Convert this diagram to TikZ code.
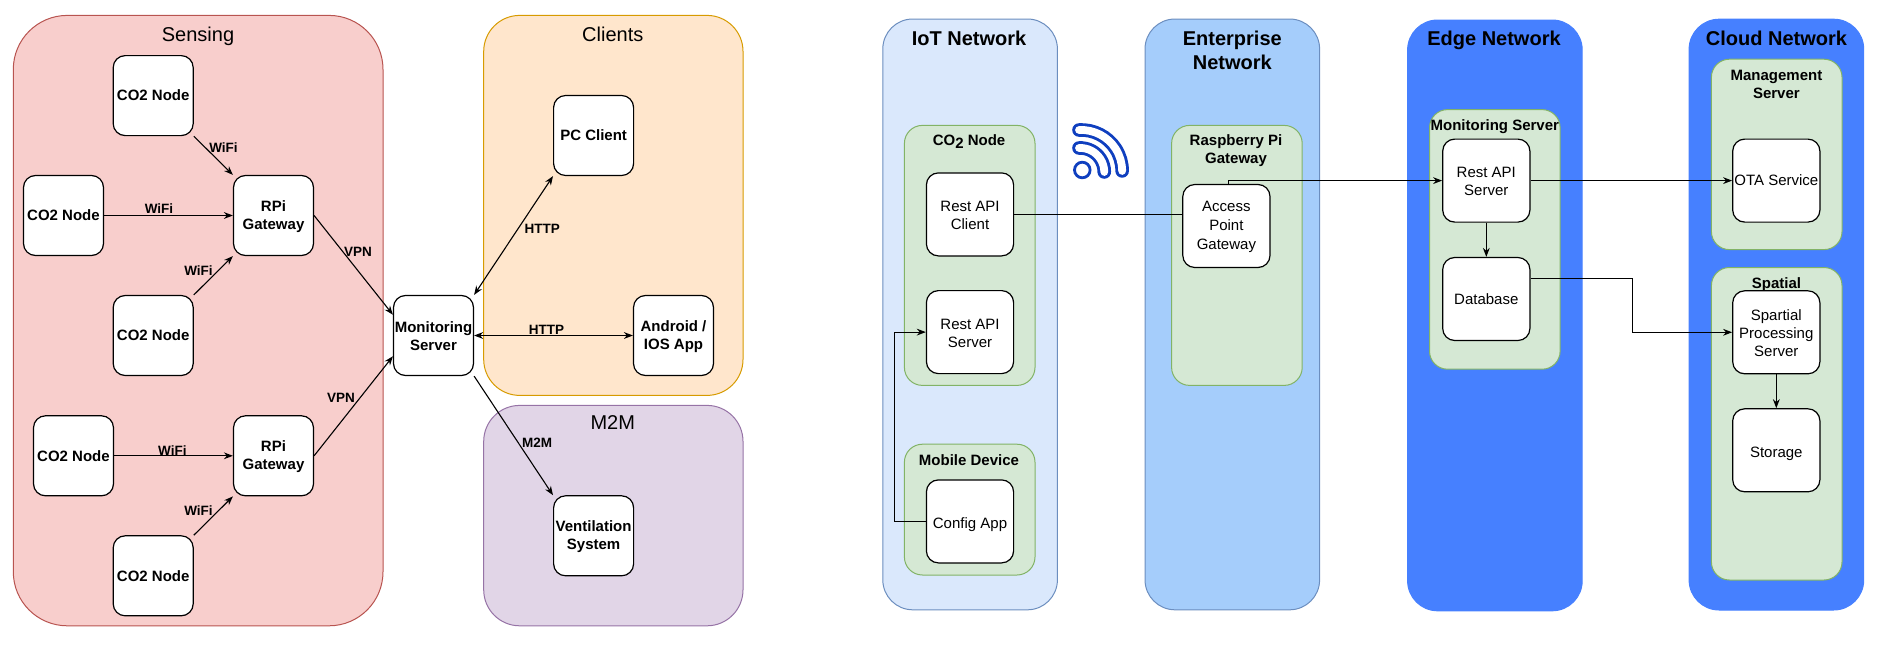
\documentclass[tikz,border=0pt]{standalone}
\usepackage{fontspec}
\setmainfont{Liberation Sans}
\usetikzlibrary{arrows.meta}
\definecolor{redF}{HTML}{F8CECC}\definecolor{redD}{HTML}{B85450}
\definecolor{orF}{HTML}{FFE6CC}\definecolor{orD}{HTML}{D79B00}
\definecolor{puF}{HTML}{E1D5E7}\definecolor{puD}{HTML}{9673A6}
\definecolor{blF}{HTML}{DAE8FC}\definecolor{blD}{HTML}{6C8EBF}
\definecolor{grF}{HTML}{D5E8D4}\definecolor{grD}{HTML}{82B366}
\definecolor{entF}{HTML}{A5CDFB}\definecolor{edgeF}{HTML}{4680FF}
\definecolor{wifiC}{HTML}{0F3FBF}
\newcommand\dn{\rule{0pt}{6.2pt}}
\newcommand\dnn{\rule{0pt}{9pt}}
\tikzset{
  panel/.style={rounded corners=#1,inner sep=0pt,line width=0.5pt},
  netw/.style={panel=15pt,minimum width=87.3pt,minimum height=295.4pt},
  green/.style={panel=9pt,fill=grF,draw=grD,minimum width=65.3pt},
  lbox/.style={draw=black,fill=white,rounded corners=6pt,inner sep=0pt,line width=0.6pt,minimum width=40pt,minimum height=40pt,align=center,font=\fontsize{7.5}{9}\selectfont\bfseries},
  rbox/.style={draw=black,fill=white,rounded corners=6pt,inner sep=0pt,line width=0.6pt,minimum width=43.6pt,minimum height=41.5pt,align=center,font=\fontsize{7.5}{9}\selectfont},
  ttl/.style={align=center,inner sep=0pt,font=\fontsize{10}{12}\selectfont},
  nettl/.style={align=center,inner sep=0pt,font=\fontsize{10}{12}\selectfont\bfseries},
  grttl/.style={align=center,inner sep=0pt,font=\fontsize{7.5}{9}\selectfont\bfseries},
  elab/.style={inner sep=0pt,font=\fontsize{6.75}{8}\selectfont\bfseries},
  conn/.style={draw=black,line width=0.55pt,-{Stealth[length=4.5pt,width=3.4pt]}},
  both/.style={conn,{Stealth[length=4.5pt,width=3.4pt]}-{Stealth[length=4.5pt,width=3.4pt]}},
  plain/.style={draw=black,line width=0.55pt},
}
\begin{document}
\begin{tikzpicture}[x=0.5pt,y=-0.5pt]
\useasboundingbox (0,0) rectangle (1884,653);
% left panels
\node[panel=27pt,fill=redF,draw=redD,minimum width=184.85pt,minimum height=305.2pt] (sensing) at (198.15,320.6) {};
\node[panel=18pt,fill=orF,draw=orD,minimum width=129.65pt,minimum height=190pt] (clients) at (613.35,205.4) {};
\node[panel=18pt,fill=puF,draw=puD,minimum width=129.65pt,minimum height=110.2pt] (m2m) at (613.35,515.6) {};
\node[ttl] (sensingT) at (198,36.4) {Sensing};
\node[ttl] (clientsT) at (612.8,34) {Clients};
\node[ttl] (m2mT) at (612.8,423) {M2M};
% left nodes
\node[lbox] (co2a) at (153.2,95.6) {CO2 Node};
\node[lbox] (co2b) at (63.5,215.5) {CO2 Node};
\node[lbox] (rpi1) at (273.5,215.5) {\dn RPi\\Gateway};
\node[lbox] (co2c) at (153.2,335.5) {CO2 Node};
\node[lbox] (co2d) at (73.5,455.8) {CO2 Node};
\node[lbox] (rpi2) at (273.5,455.8) {\dn RPi\\Gateway};
\node[lbox] (co2e) at (153.2,575.8) {CO2 Node};
\node[lbox] (mon) at (433.5,335.5) {\dn Monitoring\\Server};
\node[lbox] (pc) at (593.6,135.5) {PC Client};
\node[lbox] (app) at (673.5,335.5) {\dn Android /\\IOS App};
\node[lbox] (vent) at (593.6,535.8) {\dn Ventilation\\System};
% left connectors
\draw[conn] (co2a.south east) -- (rpi1.north west);
\draw[conn] (co2b.east) -- (rpi1.west);
\draw[conn] (co2c.north east) -- (rpi1.south west);
\draw[conn] (co2d.east) -- (rpi2.west);
\draw[conn] (co2e.north east) -- (rpi2.south west);
\draw[conn] (rpi1.east) -- ([yshift=10.4pt]mon.west);
\draw[conn] (rpi2.east) -- ([yshift=-10.4pt]mon.west);
\draw[both] (mon.north east) -- (pc.south west);
\draw[both] (mon.east) -- (app.west);
\draw[conn] (mon.south east) -- (vent.north west);
\node[elab] (l1) at (223.5,148) {WiFi};
\node[elab] (l2) at (159,209) {WiFi};
\node[elab] (l3) at (198.5,271) {WiFi};
\node[elab] (l4) at (172.4,450.4) {WiFi};
\node[elab] (l5) at (198.5,511) {WiFi};
\node[elab] (l6) at (358,252) {VPN};
\node[elab] (l7) at (341,398) {VPN};
\node[elab] (l8) at (542.3,229) {HTTP};
\node[elab] (l9) at (546.4,329.5) {HTTP};
\node[elab] (l10) at (537,443) {M2M};
% right panels
\node[netw,fill=blF,draw=blD] (iot) at (970.1,314.4) {};
\node[netw,fill=entF,draw=blD] (ent) at (1232.3,314.4) {};
\node[netw,fill=edgeF,draw=edgeF] (edge) at (1494.9,315.4) {};
\node[netw,fill=edgeF,draw=edgeF] (cloud) at (1776.4,314.6) {};
\node[nettl] (iotT) at (969,38) {IoT Network};
\node[nettl] (entT) at (1232.3,50) {Enterprise\\Network};
\node[nettl] (edgeT) at (1494,40) {Edge Network};
\node[nettl] (cloudT) at (1776.4,38) {Cloud Network};
\node[green,minimum height=130pt] (gco2) at (969.7,255.4) {};
\node[green,minimum height=65.4pt] (gmob) at (969.7,509.6) {};
\node[green,minimum height=130pt] (grasp) at (1236.9,255.4) {};
\node[green,minimum height=129.8pt] (gmon) at (1494.8,239.4) {};
\node[green,minimum height=95.2pt] (gmgmt) at (1776.7,154.4) {};
\node[green,minimum height=156.25pt] (gspat) at (1776.7,423.75) {};
\node[grttl] (gco2T) at (969,141.7) {CO\raisebox{-0.35ex}{2} Node};
\node[grttl] (gmobT) at (969,460) {Mobile Device};
\node[grttl] (graspT) at (1236,151) {Raspberry Pi\\Gateway};
\node[grttl] (gmonT) at (1494.8,126.6) {Monitoring Server};
\node[grttl] (gmgmtT) at (1776.4,84) {Management\\Server};
\node[grttl] (gspatT) at (1776.4,284.4) {Spatial};
% right nodes
\node[rbox] (client) at (970,214.4) {\dn Rest API\\Client};
\node[rbox] (server) at (970,332.1) {\dn Rest API\\Server};
\node[rbox] (config) at (970,521.4) {\dnn Config App};
\node[rbox,font=\fontsize{7.5}{9.4}\selectfont] (access) at (1226.4,226) {\dn Access\\Point\\Gateway};
\node[rbox] (rest) at (1486.3,180.6) {\dn Rest API\\Server};
\node[rbox] (db) at (1486.3,299) {Database};
\node[rbox] (ota) at (1776.3,180.6) {OTA Service};
\node[rbox] (spart) at (1776.3,332.3) {\dn Spartial\\Processing\\Server};
\node[rbox] (store) at (1776.3,450.3) {\dnn Storage};
% right connectors
\draw[plain] (client.east) -- (client.east -| access.west);
\draw[conn] ([xshift=1pt]access.north) |- (rest.west);
\draw[conn] (rest.east) -- (ota.west);
\draw[conn] (rest.south) -- (db.north);
\draw[conn] (spart.south) -- (store.north);
\coordinate (dbmid) at (1632.5,278.5);
\draw[conn] (db.east |- dbmid) -- (dbmid) |- (spart.west);
\coordinate (cfgmid) at (894.5,521.4);
\draw[conn] (config.west) -- (cfgmid) |- (server.west);
% wifi symbol
\coordinate (wo) at (1079,130);
\coordinate (wi) at (1079,148);
\draw[wifiC,line width=6.8pt,line cap=round] (wo) arc[start angle=93,end angle=0,radius=20.5pt];
\draw[white,line width=3.9pt,line cap=round] (wo) arc[start angle=93,end angle=0,radius=20.5pt];
\draw[wifiC,line width=6.8pt,line cap=round] (wi) arc[start angle=93,end angle=0,radius=12pt];
\draw[white,line width=3.9pt,line cap=round] (wi) arc[start angle=93,end angle=0,radius=12pt];
\draw[wifiC,line width=1.4pt,fill=white] (1082.3,170) circle[radius=3.9pt];
\end{tikzpicture}
\end{document}
